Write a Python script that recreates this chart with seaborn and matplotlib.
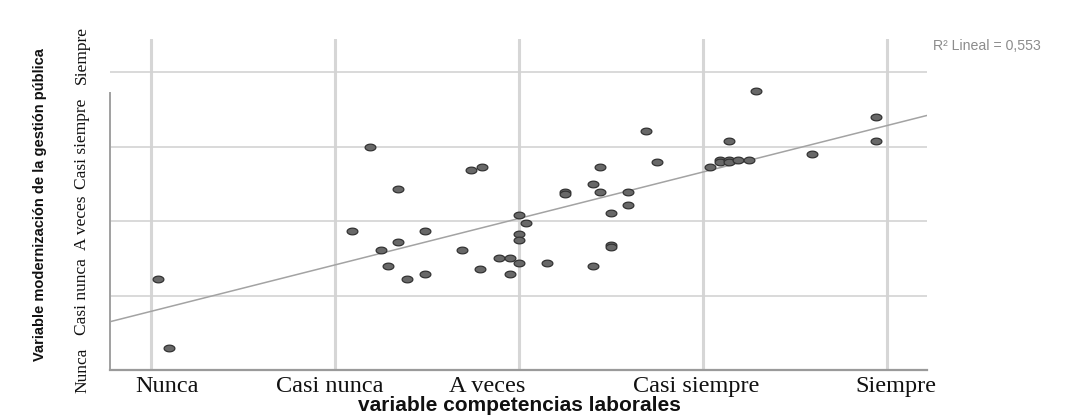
import numpy as np
import pandas as pd
import matplotlib
matplotlib.use("Agg")
import matplotlib.pyplot as plt
from matplotlib import font_manager
from matplotlib.path import Path
import seaborn as sns

# ---------------- data ----------------
comp_laborales = [1.04, 1.10, 2.09, 2.19, 2.25, 2.29, 2.34, 2.34, 2.39, 2.49,
                  2.49, 2.69, 2.74, 2.80, 2.79, 2.89, 2.95, 2.95, 3.00, 3.00,
                  3.00, 3.00, 3.04, 3.15, 3.25, 3.25, 3.40, 3.40, 3.44, 3.44,
                  3.50, 3.50, 3.50, 3.59, 3.59, 3.69, 3.75, 4.04, 4.09, 4.09,
                  4.14, 4.14, 4.14, 4.19, 4.25, 4.29, 4.59, 4.94, 4.94]
modernizacion = [2.22, 1.30, 2.87, 4.00, 2.61, 2.40, 3.43, 2.72, 2.22, 2.86,
                 2.29, 2.61, 3.68, 3.72, 2.36, 2.50, 2.50, 2.29, 3.08, 2.83,
                 2.75, 2.43, 2.97, 2.43, 3.39, 3.36, 3.50, 2.40, 3.72, 3.39,
                 3.11, 2.68, 2.65, 3.39, 3.22, 4.21, 3.79, 3.72, 3.82, 3.79,
                 4.07, 3.82, 3.79, 3.82, 3.82, 4.75, 3.90, 4.39, 4.07]

categorias = ["Nunca", "Casi nunca", "A veces", "Casi siempre", "Siempre"]
x_label_pos = [1.087, 1.973, 2.826, 3.962, 5.049]
y_label_pos = [1.0, 1.98, 2.97, 4.03, 5.23]
x_grid = [1, 2, 3, 4, 5]
y_grid = [2, 3, 4, 5]
r2_text = "R² Lineal = 0,553"
x_title = "variable competencias laborales"
y_title = "Variable modernización de la gestión pública"

df = pd.DataFrame({"x": comp_laborales, "y": modernizacion})

# ---------------- fonts ----------------
sns.set_theme(style="white")
names = {f.name for f in font_manager.fontManager.ttflist}
serif = "Liberation Serif" if "Liberation Serif" in names else "DejaVu Serif"
sans = "Liberation Sans" if "Liberation Sans" in names else "DejaVu Sans"
narrow = "Liberation Sans Narrow" if "Liberation Sans Narrow" in names else sans
plt.rcParams["font.family"] = [sans, "DejaVu Sans"]

# ---------------- figure ----------------
fig = plt.figure(figsize=(10.70, 4.15), dpi=100)
W, H = 1070, 415
left, right, top, bottom = 110, 927, 39, 370
ax = fig.add_axes([left / W, 1 - bottom / H, (right - left) / W, (bottom - top) / H])

xmin, xmax = 0.777, 5.217
ymin, ymax = 1.0, 5.443
ax.set_xlim(xmin, xmax)
ax.set_ylim(ymin, ymax)

# grid lines (minor ticks)
ax.set_xticks(x_grid, minor=True)
ax.set_yticks(y_grid, minor=True)
ax.grid(False, which="major")
ax.grid(True, which="minor", axis="x", color="#d6d6d6", linewidth=2.2)
ax.grid(True, which="minor", axis="y", color="#d3d3d3", linewidth=1.2)
ax.set_axisbelow(True)
ax.tick_params(which="minor", length=0)

# ellipse marker
t = np.linspace(0, 2 * np.pi, 40)
ell = Path(np.column_stack([np.cos(t), 0.62 * np.sin(t)]), closed=True)

sns.regplot(data=df, x="x", y="y", scatter=False, ci=None, truncate=False,
            line_kws=dict(color="#a3a3a3", linewidth=1.1), ax=ax)
sns.scatterplot(data=df, x="x", y="y", marker=ell, s=60, color="#686868",
                edgecolor="#333333", linewidth=0.9, ax=ax, zorder=3)
ax.set_xlim(xmin, xmax)
ax.set_ylim(ymin, ymax)

# tick labels
ax.set_xticks(x_label_pos, categorias)
ax.set_yticks(y_label_pos, categorias)
ax.tick_params(axis="x", which="major", length=0, pad=12)
ax.tick_params(axis="y", which="major", length=0, pad=20)
for lab in ax.get_xticklabels():
    lab.set_fontfamily(serif)
    lab.set_fontsize(17.5)
    lab.set_va("center")
    lab.set_color("#111111")
for lab in ax.get_yticklabels():
    lab.set_fontfamily(serif)
    lab.set_fontsize(12.5)
    lab.set_rotation(90)
    lab.set_va("center")
    lab.set_ha("center")
    lab.set_color("#111111")

# axis titles
ax.set_xlabel(x_title, fontsize=15, fontweight="bold", family=sans,
              color="#111111", va="center")
ax.xaxis.set_label_coords((519 - left) / (right - left), (bottom - 405) / (bottom - top))
ax.set_ylabel(y_title, fontsize=10.5, fontweight="bold", family=narrow,
              color="#111111", va="center")
ax.yaxis.set_label_coords((40 - left) / (right - left), (bottom - 205) / (bottom - top))

# spines
for s in ["top", "right"]:
    ax.spines[s].set_visible(False)
ax.spines["bottom"].set_color("#9a9a9a")
ax.spines["bottom"].set_linewidth(1.6)
ax.spines["left"].set_color("#a0a0a0")
ax.spines["left"].set_linewidth(1.4)
ax.spines["left"].set_bounds(ymin, 1 + (370 - 93) / 74.5)

# R² annotation
fig.text(933 / W, 1 - 46 / H, r2_text, ha="left", va="center",
         fontsize=10.2, color="#8c8c8c", family=sans)

fig.savefig("out.png", dpi=100, facecolor="white")
